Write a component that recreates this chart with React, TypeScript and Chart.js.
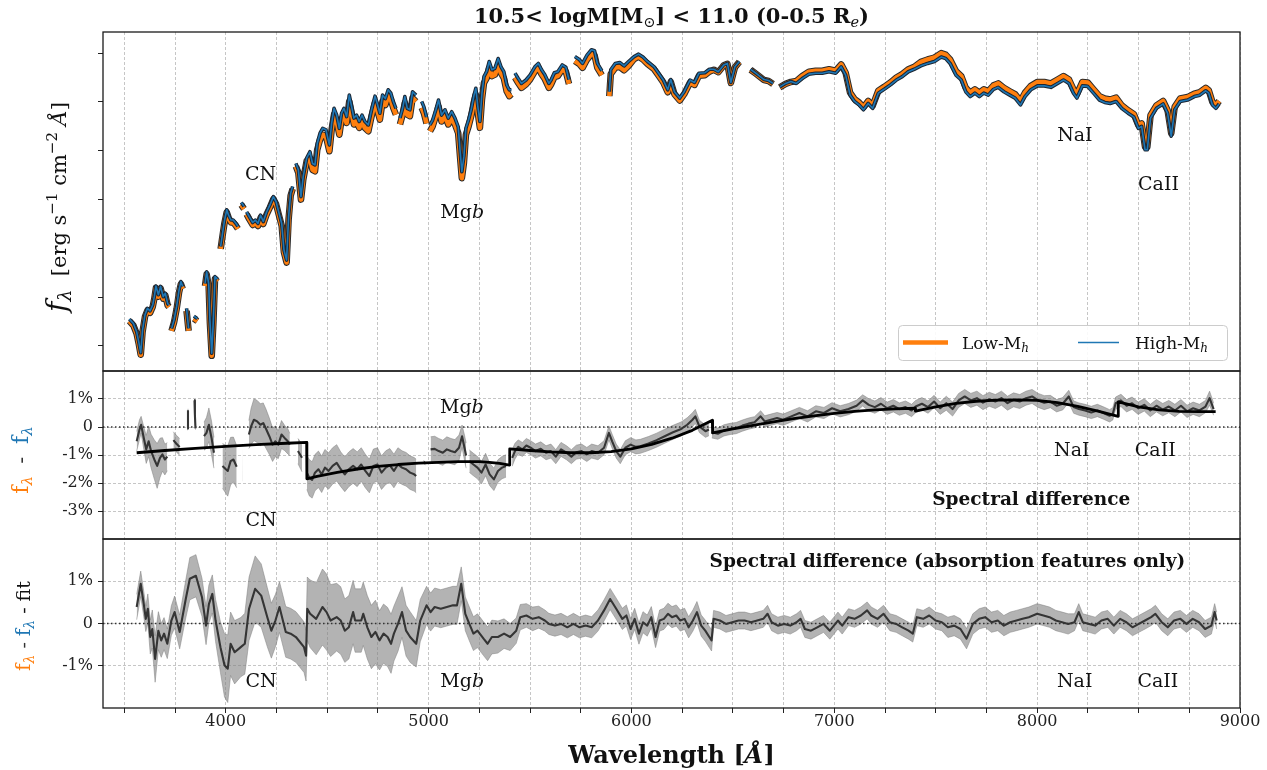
import React, { useEffect, useRef } from 'react';
import { Chart, registerables } from 'chart.js';

Chart.register(...registerables);

const FAMILY = '"DejaVu Serif", "Liberation Serif", serif';
const ORANGE = '#ff7f0e';
const BLUE = '#1f77b4';

// ---------------- axes ----------------
const waveMin = 3395;
const waveMax = 9000;
const xTickValues = [3500, 3750, 4000, 4250, 4500, 4750, 5000, 5250, 5500, 5750, 6000, 6250, 6500, 6750, 7000, 7250, 7500, 7750, 8000, 8250, 8500, 8750, 9000];
const xLabelValues = [4000, 5000, 6000, 7000, 8000, 9000];
const fluxTicks = [0.4, 0.5, 0.6, 0.7, 0.8, 0.9, 1.0];
const fluxRange = [0.3487, 1.0434];
const diffTicks = [-3, -2, -1, 0, 1];
const diffRange = [-4, 2];
const resTicks = [-1, 0, 1];
const resRange = [-2, 2];

// ---------------- top panel: spectra (null = masked gap) ----------------
const specWave = [
  3525, 3545, 3561, 3571, 3581, 3590, 3602, 3614, 3627, 3640, 3648, 3656, 3668, 3679, 3692, 3702, 3714, 3720, 3726,
  3733, 3745, 3758, 3770, 3779, 3788, 3796,
  3807, 3817, 3830,
  3843, 3860, 3880,
  3898, 3906, 3916, 3922, 3931, 3939, 3947, 3959, 3967,
  3975, 3983, 3993, 4005, 4014, 4026, 4037, 4051, 4060, 4068,
  4077, 4090, 4096,
  4103, 4116, 4133, 4146, 4159, 4172, 4185, 4202, 4218, 4235, 4248, 4261, 4276, 4287, 4300, 4310, 4320, 4330, 4338,
  4346, 4358, 4371, 4382, 4399, 4415, 4428, 4440, 4451, 4465, 4478, 4494, 4511, 4522, 4534, 4547, 4560, 4571, 4583, 4596, 4609, 4621, 4632, 4645, 4658, 4672, 4686, 4703, 4719, 4736, 4747, 4760, 4773, 4787, 4801, 4814, 4826, 4839, 4850,
  4859, 4872, 4883, 4895, 4908, 4921, 4938, 4952,
  4966, 4977, 4990, 4999,
  5007, 5020, 5036, 5049, 5064, 5081, 5097, 5114, 5130, 5146, 5155, 5164, 5174, 5184, 5197, 5210, 5224, 5233, 5243, 5253, 5263, 5273, 5286, 5299, 5312, 5327, 5343, 5357, 5371, 5385, 5398, 5408, 5417,
  5426, 5442, 5458, 5480, 5500, 5524, 5541, 5557, 5573, 5593, 5604, 5620, 5637, 5659, 5677, 5692, 5706,
  5721, 5743, 5759, 5781, 5803, 5818, 5832, 5854, 5872,
  5891, 5898, 5920, 5942, 5964, 5986, 6013, 6035, 6057, 6079, 6112, 6134, 6157, 6179, 6194, 6212, 6238, 6260, 6289, 6311, 6333, 6362, 6384, 6406, 6428, 6455, 6473, 6490, 6510, 6532, 6560,
  6587, 6610, 6632, 6654, 6676, 6698, 6715,
  6731, 6760, 6786, 6813, 6842, 6875, 6908, 6941, 6974, 7007, 7034, 7056, 7078, 7100, 7122, 7144, 7167, 7189, 7217, 7246, 7277, 7306, 7335, 7365, 7394, 7427, 7460, 7494, 7527, 7549, 7571, 7600, 7626, 7648, 7670, 7693, 7715, 7737, 7759, 7785, 7808, 7836, 7865, 7891, 7918, 7940, 7969, 8002, 8035, 8068, 8101, 8130, 8157, 8179, 8196, 8223, 8249, 8278, 8307, 8333, 8360, 8389, 8417, 8448, 8477, 8499, 8515, 8532, 8543, 8559, 8588, 8621, 8643, 8661, 8678, 8705, 8742, 8775, 8802, 8831, 8846, 8864, 8881, 8897,
];
const highFlux = [
  .455, .446, .429, .409, .386, .433, .464, .477, .472, .484, .501, .523, .505, .522, .501, .508, .487, .484, null,
  .436, .453, .481, .515, .532, .522, null,
  .477, .436, null,
  .461, .456, null,
  .528, .552, .528, .453, .385, .453, .542, .537, null,
  .604, .627, .655, .679, .668, .658, .658, .651, .645, null,
  .694, .686, null,
  .675, .665, .653, .658, .651, .668, .655, .675, .689, .706, .696, .675, .651, .597, .576, .665, .713, .727, null,
  .774, .761, .706, .747, .785, .798, .774, .771, .815, .836, .846, .843, .812, .856, .887, .873, .846, .877, .887, .870, .914, .890, .867, .873, .860, .873, .860, .853, .884, .912, .897, .877, .914, .907, .925, .918, .901, .887, null,
  .867, .887, .911, .887, .884, .921, .914, null,
  .901, .890, .869, null,
  .853, .863, .884, .904, .873, .884, .867, .880, .867, .849, .802, .757, .788, .846, .863, .884, .914, .928, .890, .860, .918, .952, .962, .983, .966, .969, .989, .972, .962, .935, .925, .925, null,
  .959, .948, .938, .945, .955, .972, .979, .966, .956, .938, .945, .960, .962, .976, .971, .946, null,
  .993, .987, .979, .996, 1.007, 1.005, .979, .964, null,
  .921, .966, .979, .981, .974, .983, .993, .998, .992, .983, .972, .959, .945, .925, .946, .921, .908, .921, .945, .940, .959, .960, .967, .967, .962, .976, .979, .940, .972, .983, null,
  .967, .960, .953, .946, .944, .938, null,
  .931, .938, .942, .938, .948, .957, .959, .959, .962, .959, .972, .955, .914, .901, .894, .884, .897, .887, .918, .926, .935, .945, .952, .962, .967, .974, .979, .983, .992, .989, .979, .955, .945, .921, .911, .918, .911, .918, .914, .926, .930, .921, .914, .908, .894, .911, .925, .933, .933, .930, .938, .945, .938, .918, .908, .933, .932, .918, .904, .899, .897, .901, .887, .877, .869, .846, .850, .802, .802, .867, .887, .896, .877, .830, .884, .901, .904, .911, .914, .923, .918, .894, .887, .896,
];
const lowFlux = [
  .451, .442, .425, .405, .382, .429, .460, .473, .468, .480, .497, .519, .501, .518, .497, .504, .483, .480, null,
  .431, .448, .476, .510, .527, .517, null,
  .472, .431, null,
  .456, .451, null,
  .523, .547, .523, .448, .380, .448, .537, .532, null,
  .599, .622, .650, .674, .663, .653, .653, .646, .640, null,
  .689, .681, null,
  .670, .660, .648, .653, .646, .663, .650, .670, .684, .701, .691, .670, .646, .592, .571, .660, .708, .722, null,
  .768, .755, .700, .741, .779, .785, .761, .758, .802, .823, .833, .830, .799, .843, .874, .860, .833, .864, .874, .857, .901, .877, .854, .860, .847, .860, .847, .840, .871, .899, .884, .864, .901, .894, .912, .905, .888, .874, null,
  .854, .874, .898, .874, .871, .908, .901, null,
  .888, .877, .856, null,
  .840, .850, .871, .891, .860, .871, .854, .867, .854, .836, .789, .744, .775, .833, .850, .871, .901, .915, .877, .847, .905, .939, .949, .970, .953, .956, .976, .959, .949, .922, .912, .916, null,
  .950, .939, .929, .936, .946, .963, .970, .957, .947, .929, .936, .951, .953, .967, .962, .937, null,
  .984, .978, .970, .987, .998, .996, .970, .955, null,
  .912, .957, .970, .972, .965, .974, .988, .993, .987, .978, .967, .954, .940, .920, .941, .916, .903, .916, .940, .935, .954, .955, .962, .966, .961, .975, .978, .939, .971, .982, null,
  .966, .959, .952, .945, .943, .937, null,
  .930, .937, .941, .943, .953, .962, .964, .964, .967, .964, .977, .960, .919, .906, .899, .889, .902, .892, .923, .931, .940, .950, .957, .967, .972, .982, .987, .991, 1.000, .997, .987, .963, .953, .929, .919, .926, .919, .926, .922, .934, .938, .929, .922, .916, .902, .919, .933, .941, .941, .938, .946, .953, .946, .926, .916, .941, .940, .926, .912, .907, .905, .909, .893, .883, .875, .852, .856, .808, .808, .873, .893, .902, .883, .836, .890, .907, .910, .917, .920, .929, .924, .900, .893, .902,
];

// ---------------- middle panel: spectral difference in % (null = gap) ----------------
const diffWave = [
  3561, 3575, 3583, 3596, 3608, 3620, 3632, 3648, 3662, 3676, 3688, 3700, 3712, 3727,
  3742, 3756, 3773, 3790,
  3810, 3814, 3830,
  3846, 3848, 3851, 3870,
  3893, 3905, 3917, 3930, 3942, 3965,
  3984, 3998, 4010, 4024, 4038, 4054, 4068,
  4083, 4085, 4100,
  4114, 4125, 4139, 4155, 4171, 4185, 4199, 4215, 4231, 4245, 4259, 4275, 4290, 4306, 4316, 4336,
  4356, 4376, 4388,
  4400, 4412, 4426, 4440, 4457, 4473, 4489, 4507, 4527, 4547, 4567, 4587, 4607, 4628, 4648, 4668, 4688, 4708, 4728, 4748, 4768, 4789, 4809, 4829, 4849, 4869, 4889, 4909, 4929, 4939, 4960,
  4975, 4985, 4998,
  5010, 5030, 5050, 5070, 5090, 5110, 5130, 5150, 5165, 5177, 5185, 5193,
  5201, 5221, 5241, 5261, 5281, 5301, 5322, 5342, 5362, 5382, 5397,
  5412, 5426, 5442, 5462, 5482, 5503, 5527, 5553, 5579, 5603, 5627, 5653, 5680, 5704, 5728, 5754, 5780, 5804, 5835, 5865, 5889, 5905, 5925, 5945, 5970, 5996, 6022, 6044, 6084, 6124, 6164, 6205, 6245, 6275, 6301, 6315, 6335, 6365, 6382, 6389,
  6396, 6426, 6456, 6486, 6516, 6547, 6577, 6607, 6637, 6657, 6687, 6718, 6748, 6788, 6828, 6868, 6909, 6949, 6989, 7029, 7070, 7110, 7140, 7170, 7200, 7230, 7261, 7291, 7321, 7351, 7381, 7401, 7432, 7462, 7492, 7522, 7552, 7583, 7613, 7643, 7673, 7703, 7733, 7764, 7794, 7824, 7854, 7884, 7914, 7945, 7975, 8005, 8035, 8065, 8096, 8126, 8156, 8180, 8206, 8236, 8267, 8297, 8327, 8357, 8373, 8387, 8413, 8441, 8468, 8498, 8528, 8558, 8588, 8619, 8649, 8679, 8709, 8739, 8769, 8800, 8830, 8850, 8870,
];
const diffVal = [
  -0.51, -0.09, 0.08, -0.39, -0.80, -0.51, -0.86, -1.16, -1.39, -1.10, -0.98, -1.16, -1.06, null,
  -0.47, -0.59, -0.71, null,
  -0.05, 0.60, null,
  0.95, 0.44, -0.05, null,
  -0.33, -0.21, 0.08, -0.39, -0.92, null,
  -1.39, -1.49, -1.57, -1.22, -1.16, -1.42, null,
  -1.32, -1.32, null,
  -0.27, 0.02, 0.26, 0.20, 0.08, 0.14, -0.07, -0.33, -0.63, -0.51, -0.63, -0.27, -0.39, -0.51, -0.63, null,
  -0.86, -1.10, null,
  -1.63, -1.81, -1.89, -1.63, -1.51, -1.69, -1.45, -1.57, -1.39, -1.28, -1.51, -1.69, -1.51, -1.39, -1.51, -1.34, -1.57, -1.75, -1.39, -1.34, -1.63, -1.45, -1.37, -1.57, -1.34, -1.45, -1.51, -1.63, -1.69, -1.75, null,
  -1.25, -1.30, null,
  -0.80, -0.78, -0.86, -0.92, -0.80, -0.86, -0.90, -0.74, -0.33, -0.74, -1.02, null,
  -1.22, -1.34, -1.45, -1.63, -1.34, -1.69, -1.87, -1.57, -1.45, -1.39, null,
  -1.10, -0.86, -0.71, -0.80, -0.66, -0.74, -0.86, -0.78, -0.92, -0.86, -1.06, -0.80, -0.92, -1.06, -0.90, -0.86, -0.98, -0.86, -0.92, -0.74, -0.21, -0.51, -0.86, -1.06, -0.74, -0.63, -0.71, -0.69, -0.59, -0.47, -0.33, -0.19, -0.07, 0.08, 0.26, 0.38, 0.02, -0.15, -0.09, null,
  -0.19, -0.24, -0.12, -0.07, -0.04, 0.05, 0.12, 0.17, 0.38, 0.20, 0.26, 0.32, 0.26, 0.38, 0.50, 0.38, 0.56, 0.50, 0.67, 0.56, 0.64, 0.76, 0.95, 0.79, 0.71, 0.83, 0.67, 0.76, 0.64, 0.71, 0.59, 0.73, 0.83, 0.71, 0.91, 0.67, 0.85, 0.64, 0.95, 1.09, 0.95, 1.03, 0.87, 0.99, 0.91, 1.03, 0.85, 0.97, 0.91, 1.03, 1.09, 0.95, 0.87, 0.91, 0.76, 0.83, 1.09, 0.71, 0.64, 0.59, 0.52, 0.59, 0.50, 0.40, 0.47, 0.85, 0.95, 0.76, 0.85, 0.67, 0.79, 0.59, 0.76, 0.62, 0.73, 0.59, 0.76, 0.56, 0.67, 0.59, 0.73, 1.03, 0.64,
];
const diffErr = [
  0.35, 0.35, 0.30, 0.40, 0.50, 0.55, 0.60, 0.70, 0.80, 0.70, 0.60, 0.55, 0.50, null,
  0.30, 0.30, 0.30, null,
  0.05, 0.05, null,
  0.05, 0.05, 0.05, null,
  0.50, 0.55, 0.60, 0.60, 0.55, null,
  0.80, 0.85, 0.90, 0.85, 0.80, 0.75, null,
  0.62, 0.62, null,
  0.50, 0.65, 0.75, 0.75, 0.75, 0.72, 0.70, 0.65, 0.60, 0.55, 0.50, 0.50, 0.45, 0.45, 0.40, null,
  0.45, 0.50, null,
  0.60, 0.65, 0.65, 0.65, 0.65, 0.65, 0.65, 0.65, 0.65, 0.65, 0.62, 0.62, 0.62, 0.62, 0.62, 0.60, 0.60, 0.60, 0.60, 0.60, 0.60, 0.60, 0.60, 0.60, 0.60, 0.60, 0.60, 0.60, 0.60, 0.60, null,
  0.05, 0.05, null,
  0.45, 0.45, 0.45, 0.45, 0.45, 0.45, 0.45, 0.45, 0.40, 0.45, 0.45, null,
  0.40, 0.40, 0.40, 0.40, 0.40, 0.40, 0.40, 0.40, 0.40, 0.40, null,
  0.30, 0.28, 0.25, 0.25, 0.25, 0.25, 0.25, 0.25, 0.25, 0.25, 0.25, 0.25, 0.25, 0.25, 0.25, 0.25, 0.25, 0.25, 0.25, 0.25, 0.25, 0.25, 0.25, 0.25, 0.25, 0.25, 0.25, 0.25, 0.25, 0.25, 0.25, 0.25, 0.25, 0.25, 0.25, 0.25, 0.22, 0.22, 0.22, null,
  0.20, 0.20, 0.20, 0.20, 0.20, 0.20, 0.20, 0.20, 0.20, 0.20, 0.20, 0.20, 0.20, 0.20, 0.20, 0.20, 0.20, 0.20, 0.20, 0.20, 0.20, 0.20, 0.20, 0.22, 0.22, 0.22, 0.22, 0.22, 0.22, 0.22, 0.22, 0.22, 0.22, 0.22, 0.22, 0.22, 0.25, 0.25, 0.25, 0.25, 0.25, 0.25, 0.25, 0.25, 0.25, 0.25, 0.25, 0.25, 0.25, 0.25, 0.25, 0.25, 0.25, 0.22, 0.22, 0.22, 0.22, 0.22, 0.22, 0.22, 0.22, 0.22, 0.22, 0.22, 0.22, 0.22, 0.22, 0.22, 0.22, 0.22, 0.22, 0.22, 0.22, 0.22, 0.22, 0.22, 0.22, 0.22, 0.22, 0.22, 0.22, 0.25, 0.22,
];

// polynomial fit to the difference (duplicated wavelengths = jumps)
const fitWave = [3561, 3700, 3850, 4000, 4150, 4300, 4399, 4400, 4450, 4550, 4650, 4750, 4850, 4950, 5050, 5150, 5250, 5300, 5350, 5399, 5400, 5500, 5600, 5700, 5800, 5900, 6000, 6100, 6200, 6300, 6399, 6400, 6500, 6600, 6700, 6800, 6900, 7000, 7100, 7200, 7300, 7399, 7400, 7500, 7600, 7700, 7800, 7900, 8000, 8100, 8200, 8300, 8399, 8400, 8500, 8600, 8700, 8800, 8880];
const fitVal = [-0.92, -0.84, -0.76, -0.69, -0.63, -0.58, -0.55, -1.85, -1.76, -1.62, -1.50, -1.41, -1.34, -1.29, -1.26, -1.24, -1.24, -1.26, -1.30, -1.36, -0.78, -0.84, -0.89, -0.92, -0.92, -0.88, -0.78, -0.62, -0.40, -0.12, 0.24, -0.21, -0.07, 0.06, 0.18, 0.30, 0.40, 0.49, 0.56, 0.61, 0.65, 0.67, 0.57, 0.72, 0.84, 0.92, 0.96, 0.97, 0.95, 0.87, 0.74, 0.57, 0.38, 0.90, 0.72, 0.61, 0.56, 0.55, 0.55];

// ---------------- bottom panel: residual after fit, in % ----------------
const resWave = [
  3561, 3581, 3596, 3606, 3616, 3628, 3638, 3652, 3668, 3682, 3696, 3712, 3732, 3748, 3773, 3803, 3823, 3853, 3883, 3903, 3917, 3934, 3950, 3974, 3994, 4010, 4024, 4044, 4074, 4094,
  4115, 4145, 4175, 4205, 4225, 4245, 4265, 4296, 4320, 4346, 4386, 4396, 4402, 4416, 4446, 4477, 4497, 4517, 4547, 4567, 4587, 4607, 4628, 4638, 4668, 4678, 4698, 4718, 4738, 4758,
  4778, 4798, 4815, 4829, 4849, 4869, 4889, 4909, 4939, 4959, 4990, 5010, 5030, 5060, 5090, 5120, 5140, 5161, 5181, 5201, 5221, 5241, 5271, 5291, 5312, 5342, 5372, 5402, 5432, 5452,
  5482, 5513, 5543, 5573, 5593, 5623, 5653, 5684, 5714, 5744, 5774, 5804, 5835, 5865, 5895, 5925, 5955, 5975, 5996, 6016, 6037, 6057, 6078, 6098, 6119, 6139, 6160, 6180, 6200, 6221,
  6241, 6262, 6282, 6303, 6323, 6344, 6364, 6384, 6395, 6405, 6436, 6466, 6497, 6528, 6558, 6589, 6620, 6650, 6671, 6691, 6722, 6753, 6783, 6814, 6834, 6855, 6885, 6916, 6947, 6978,
  6998, 7018, 7039, 7070, 7100, 7131, 7162, 7182, 7213, 7243, 7274, 7305, 7335, 7366, 7387, 7407, 7438, 7468, 7499, 7530, 7560, 7591, 7622, 7652, 7683, 7714, 7744, 7775, 7806, 7836,
  7867, 7898, 7928, 7959, 8000, 8031, 8061, 8092, 8123, 8153, 8184, 8205, 8225, 8256, 8286, 8317, 8348, 8378, 8409, 8440, 8470, 8501, 8532, 8562, 8583, 8614, 8644, 8675, 8706, 8736,
  8767, 8798, 8828, 8859, 8875, 8885,
];
const resVal = [
  0.39, 0.94, 0.46, 0.11, 0.35, -0.32, -0.13, -0.84, -0.17, -0.40, -0.24, -0.48, 0.07, 0.27, -0.20, 0.58, 1.06, 1.13, 0.62, -0.05, 0.46, 0.70, 0.07, -0.56, -0.99, -1.07, -0.48, -0.68, -0.56, -0.48,
  0.35, 0.82, 0.66, 0.15, -0.17, 0.07, 0.39, -0.20, -0.24, -0.32, -0.56, -0.76, 0.35, 0.23, 0.11, 0.39, 0.27, 0.07, 0.15, 0.07, -0.17, -0.09, 0.27, 0.07, 0.07, 0.23, -0.09, -0.32, -0.20, -0.40,
  -0.24, -0.32, -0.48, -0.24, -0.01, 0.27, -0.17, -0.32, -0.48, 0.07, 0.43, 0.27, 0.39, 0.35, 0.39, 0.43, 0.43, 0.94, 0.23, -0.01, -0.24, -0.17, -0.36, -0.48, -0.32, -0.32, -0.24, -0.32, -0.17, 0.15,
  0.19, 0.11, 0.15, 0.07, -0.01, -0.05, -0.01, -0.09, -0.01, -0.09, -0.05, -0.09, 0.07, 0.31, 0.58, 0.35, 0.11, 0.19, -0.13, 0.11, -0.24, 0.03, -0.05, 0.15, -0.32, 0.07, 0.11, 0.23, 0.15, 0.19,
  0.07, 0.11, -0.09, 0.07, 0.27, -0.05, -0.17, -0.32, -0.40, 0.11, 0.07, -0.01, 0.03, 0.07, 0.07, 0.03, 0.07, 0.11, 0.23, 0.03, -0.05, -0.01, -0.05, 0.03, 0.11, -0.13, -0.17, -0.09, -0.01, -0.17,
  -0.05, 0.07, -0.05, 0.15, 0.11, 0.19, 0.31, 0.19, 0.11, 0.23, 0.03, -0.01, -0.09, -0.17, -0.24, 0.15, 0.11, 0.19, 0.07, 0.03, -0.09, -0.05, -0.13, -0.36, -0.01, 0.11, 0.15, 0.03, 0.07, -0.05,
  0.03, 0.07, 0.11, 0.15, 0.23, 0.19, 0.15, 0.07, 0.03, -0.01, 0.03, 0.27, 0.03, -0.01, -0.05, 0.07, 0.11, -0.05, 0.11, 0.03, -0.09, -0.01, 0.07, 0.15, 0.23, 0.03, -0.09, 0.07, 0.11, -0.01,
  0.11, 0.03, -0.13, -0.05, 0.27, 0.07,
];
const resErr = [
  0.30, 0.30, 0.30, 0.30, 0.35, 0.40, 0.45, 0.55, 0.45, 0.40, 0.38, 0.35, 0.35, 0.38, 0.40, 0.45, 0.50, 0.50, 0.45, 0.45, 0.45, 0.45, 0.50, 0.60, 0.75, 0.80, 0.75, 0.75, 0.70, 0.72,
  0.75, 0.78, 0.75, 0.70, 0.65, 0.62, 0.60, 0.60, 0.60, 0.60, 0.60, 0.60, 0.75, 0.80, 0.85, 0.90, 0.90, 0.85, 0.80, 0.80, 0.75, 0.75, 0.75, 0.75, 0.75, 0.75, 0.75, 0.75, 0.75, 0.70,
  0.70, 0.70, 0.70, 0.65, 0.65, 0.60, 0.60, 0.60, 0.55, 0.50, 0.45, 0.45, 0.45, 0.45, 0.45, 0.45, 0.45, 0.40, 0.40, 0.40, 0.40, 0.40, 0.40, 0.40, 0.40, 0.38, 0.35, 0.32, 0.30, 0.30,
  0.28, 0.28, 0.26, 0.25, 0.25, 0.25, 0.25, 0.25, 0.25, 0.25, 0.25, 0.25, 0.25, 0.25, 0.25, 0.25, 0.25, 0.25, 0.25, 0.25, 0.25, 0.25, 0.25, 0.25, 0.25, 0.25, 0.25, 0.25, 0.25, 0.25,
  0.25, 0.25, 0.25, 0.25, 0.25, 0.25, 0.25, 0.25, 0.25, 0.20, 0.20, 0.20, 0.20, 0.20, 0.20, 0.20, 0.20, 0.20, 0.20, 0.20, 0.20, 0.20, 0.20, 0.20, 0.20, 0.20, 0.20, 0.20, 0.20, 0.20,
  0.20, 0.20, 0.20, 0.20, 0.20, 0.20, 0.20, 0.20, 0.20, 0.20, 0.20, 0.20, 0.20, 0.20, 0.20, 0.20, 0.20, 0.20, 0.20, 0.20, 0.24, 0.24, 0.24, 0.24, 0.24, 0.24, 0.24, 0.24, 0.24, 0.24,
  0.24, 0.24, 0.24, 0.24, 0.24, 0.24, 0.24, 0.24, 0.24, 0.24, 0.20, 0.20, 0.20, 0.20, 0.20, 0.20, 0.20, 0.20, 0.20, 0.20, 0.20, 0.20, 0.20, 0.20, 0.20, 0.20, 0.20, 0.20, 0.20, 0.20,
  0.20, 0.20, 0.20, 0.20, 0.20, 0.20,
];

const zeroWave = [waveMin, waveMax];
const zeroVal = [0, 0];

// ---------------- annotations ----------------
const topNotes = [
  { label: 'CN', wave: 4172, val: 0.7545 },
  { label: 'Mgb', wave: 5166, val: 0.676 },
  { label: 'NaI', wave: 8186, val: 0.834 },
  { label: 'CaII', wave: 8598, val: 0.733 },
];
const midNotes = [
  { label: 'Mgb', wave: 5164, val: 0.755 },
  { label: 'CN', wave: 4174, val: -3.28 },
  { label: 'NaI', wave: 8171, val: -0.77 },
  { label: 'CaII', wave: 8582, val: -0.77 },
];
const botNotes = [
  { label: 'CN', wave: 4174, val: -1.33 },
  { label: 'Mgb', wave: 5166, val: -1.33 },
  { label: 'NaI', wave: 8185, val: -1.33 },
  { label: 'CaII', wave: 8595, val: -1.33 },
];
const midHeading = { label: 'Spectral difference', wave: 7971, val: -2.57 };
const botHeading = { label: 'Spectral difference (absorption features only)', wave: 7558, val: 1.5 };
const legendLabels = ['Low-M', 'High-M'];

// ---------------- helpers ----------------
const font = (size: number, weight = '', style = '') =>
  `${style ? style + ' ' : ''}${weight ? weight + ' ' : ''}${size}px ${FAMILY}`;

type Run = { t: string; f: string; c?: string; dy?: number };

function runsWidth(ctx: CanvasRenderingContext2D, runs: Run[]) {
  let w = 0;
  for (const r of runs) {
    ctx.font = r.f;
    w += ctx.measureText(r.t).width;
  }
  return w;
}

function drawRuns(ctx: CanvasRenderingContext2D, runs: Run[], x: number, y: number, align: 'center' | 'left' = 'center') {
  const w = runsWidth(ctx, runs);
  let cx = align === 'center' ? x - w / 2 : x;
  ctx.textAlign = 'left';
  ctx.textBaseline = 'alphabetic';
  for (const r of runs) {
    ctx.font = r.f;
    ctx.fillStyle = r.c || '#111';
    ctx.fillText(r.t, cx, y + (r.dy || 0));
    cx += ctx.measureText(r.t).width;
  }
}

function drawRotated(ctx: CanvasRenderingContext2D, runs: Run[], cx: number, cy: number) {
  ctx.save();
  ctx.translate(cx, cy);
  ctx.rotate(-Math.PI / 2);
  drawRuns(ctx, runs, 0, 0, 'center');
  ctx.restore();
}

function noteRuns(label: string, size: number): Run[] {
  if (label === 'Mgb') return [{ t: 'Mg', f: font(size) }, { t: 'b', f: font(size, '', 'italic') }];
  return [{ t: label, f: font(size) }];
}

const pts = (wave: number[], vals: (number | null)[]) =>
  wave.map((w, i) => ({ x: w, y: vals[i] == null ? null : (vals[i] as number) }));
const bandPts = (wave: number[], vals: (number | null)[], errs: (number | null)[], sign: number) =>
  wave.map((w, i) => ({
    x: w,
    y: vals[i] == null || errs[i] == null ? null : (vals[i] as number) + sign * (errs[i] as number),
  }));

const textPlugin = {
  id: 'specTexts',
  afterDatasetsDraw(chart: any) {
    const ctx: CanvasRenderingContext2D = chart.ctx;
    const xs = chart.scales.x;
    const ca = chart.chartArea;
    ctx.save();
    const place = (notes: { label: string; wave: number; val: number }[], scale: any) => {
      for (const n of notes) {
        const x = xs.getPixelForValue(n.wave);
        const y = scale.getPixelForValue(n.val);
        drawRuns(ctx, noteRuns(n.label, 19), x, y + 7);
      }
    };
    place(topNotes, chart.scales.yTop);
    place(midNotes, chart.scales.yMid);
    place(botNotes, chart.scales.yBot);
    {
      const s = chart.scales.yMid;
      drawRuns(ctx, [{ t: midHeading.label, f: font(18.5, 'bold') }], xs.getPixelForValue(midHeading.wave), s.getPixelForValue(midHeading.val) + 6.5);
      const b = chart.scales.yBot;
      drawRuns(ctx, [{ t: botHeading.label, f: font(18.5, 'bold') }], xs.getPixelForValue(botHeading.wave), b.getPixelForValue(botHeading.val) + 6.5);
    }

    // legend (inside lower-right of the top panel)
    const top = chart.scales.yTop;
    const lx1 = ca.right - 329 - 13;
    const ly2 = top.bottom - 11;
    const lh = 35;
    const ly1 = ly2 - lh;
    ctx.fillStyle = 'rgba(255,255,255,0.9)';
    ctx.strokeStyle = '#cccccc';
    ctx.lineWidth = 1;
    ctx.beginPath();
    if ((ctx as any).roundRect) (ctx as any).roundRect(lx1 + 0.5, ly1 + 0.5, 329, lh, 4);
    else ctx.rect(lx1 + 0.5, ly1 + 0.5, 329, lh);
    ctx.fill();
    ctx.stroke();
    const cy = ly1 + lh / 2;
    ctx.lineCap = 'butt';
    ctx.strokeStyle = ORANGE;
    ctx.lineWidth = 4.5;
    ctx.beginPath();
    ctx.moveTo(lx1 + 5, cy);
    ctx.lineTo(lx1 + 50, cy);
    ctx.stroke();
    drawRuns(ctx, [{ t: legendLabels[0], f: font(17) }, { t: 'h', f: font(12, '', 'italic'), dy: 3 }], lx1 + 64, cy + 6.5, 'left');
    ctx.strokeStyle = BLUE;
    ctx.lineWidth = 1.5;
    ctx.beginPath();
    ctx.moveTo(lx1 + 180, cy);
    ctx.lineTo(lx1 + 221, cy);
    ctx.stroke();
    drawRuns(ctx, [{ t: legendLabels[1], f: font(17) }, { t: 'h', f: font(12, '', 'italic'), dy: 3 }], lx1 + 237, cy + 6.5, 'left');
    ctx.restore();
  },
  afterDraw(chart: any) {
    const ctx: CanvasRenderingContext2D = chart.ctx;
    const ca = chart.chartArea;
    ctx.save();
    // panel frames
    ctx.strokeStyle = '#1a1a1a';
    ctx.lineWidth = 1.3;
    for (const id of ['yTop', 'yMid', 'yBot']) {
      const s = chart.scales[id];
      ctx.strokeRect(ca.left, s.top, ca.right - ca.left, s.bottom - s.top);
    }
    const cx = (ca.left + ca.right) / 2;
    // title
    drawRuns(ctx, [
      { t: '10.5< logM[M', f: font(21, 'bold') },
      { t: '\u2299', f: font(14.5), dy: 4 },
      { t: '] < 11.0 (0-0.5 R', f: font(21, 'bold') },
      { t: 'e', f: font(14.5, '', 'italic'), dy: 4 },
      { t: ')', f: font(21, 'bold') },
    ], cx, 23);
    // x label
    drawRuns(ctx, [
      { t: 'Wavelength [', f: font(24, 'bold') },
      { t: '\u00C5', f: font(24, 'bold', 'italic') },
      { t: ']', f: font(24, 'bold') },
    ], cx, 763);
    // y labels
    drawRotated(ctx, [
      { t: 'f', f: font(28, '', 'italic') },
      { t: '\u03BB', f: font(19, '', 'italic'), dy: 5 },
      { t: '  [erg s', f: font(21) },
      { t: '\u22121', f: font(15), dy: -9 },
      { t: ' cm', f: font(21) },
      { t: '\u22122', f: font(15), dy: -9 },
      { t: ' ', f: font(21) },
      { t: '\u00C5', f: font(21, '', 'italic') },
      { t: ']', f: font(21) },
    ], 66, 207);
    drawRotated(ctx, [
      { t: 'f', f: font(22), c: ORANGE },
      { t: '\u03BB', f: font(15, '', 'italic'), c: ORANGE, dy: 4 },
      { t: '  -  ', f: font(20), c: '#333' },
      { t: 'f', f: font(22), c: BLUE },
      { t: '\u03BB', f: font(15, '', 'italic'), c: BLUE, dy: 4 },
    ], 28, 460);
    drawRotated(ctx, [
      { t: 'f', f: font(20), c: ORANGE },
      { t: '\u03BB', f: font(14, '', 'italic'), c: ORANGE, dy: 4 },
      { t: ' - ', f: font(19), c: '#333' },
      { t: 'f', f: font(20), c: BLUE },
      { t: '\u03BB', f: font(14, '', 'italic'), c: BLUE, dy: 4 },
      { t: ' - fit', f: font(19), c: '#111' },
    ], 30, 626);
    ctx.restore();
  },
};

const tickFont = { family: FAMILY, size: 16 };

function yScale(ticks: number[], range: number[], weight: number, stackWeight: number, showLabels: boolean, showGrid: boolean) {
  return {
    type: 'linear',
    position: 'left',
    stack: 'panels',
    stackWeight,
    weight,
    min: range[0],
    max: range[1],
    afterBuildTicks: (s: any) => {
      s.ticks = ticks.map((v) => ({ value: v }));
    },
    afterFit: (s: any) => {
      s.width = 103;
    },
    grid: {
      drawOnChartArea: showGrid,
      drawTicks: true,
      tickLength: 5,
      color: '#b8b8b8',
      lineWidth: 0.8,
      tickColor: '#222',
      tickWidth: 1,
    },
    border: { display: false, dash: [3, 2] },
    ticks: {
      display: showLabels,
      padding: 5,
      color: '#222',
      font: tickFont,
      callback: (v: number) => (v === 0 ? '0' : `${v}%`),
    },
  };
}

export default function App() {
  const ref = useRef<HTMLCanvasElement>(null);

  useEffect(() => {
    const canvas = ref.current;
    if (!canvas) return;

    const highData = pts(specWave, highFlux);
    const lowData = pts(specWave, lowFlux);
    const common = { pointRadius: 0, pointHoverRadius: 0, tension: 0, spanGaps: false, fill: false, borderJoinStyle: 'round' };

    const datasets: any[] = [
      // top panel
      { ...common, label: 'High-Mh', data: highData, yAxisID: 'yTop', borderColor: BLUE, borderWidth: 1.6, order: 1 },
      { ...common, label: 'High-Mh outline', data: highData, yAxisID: 'yTop', borderColor: '#1c2633', borderWidth: 3.6, order: 2 },
      { ...common, label: 'Low-Mh', data: lowData, yAxisID: 'yTop', borderColor: ORANGE, borderWidth: 4.6, order: 3 },
      { ...common, label: 'Low-Mh outline', data: lowData, yAxisID: 'yTop', borderColor: '#2a2a2a', borderWidth: 6.6, order: 4 },
      // middle panel
      { ...common, label: 'fit', data: pts(fitWave, fitVal), yAxisID: 'yMid', borderColor: '#000', borderWidth: 2.8, order: 1 },
      { ...common, label: 'diff', data: pts(diffWave, diffVal), yAxisID: 'yMid', borderColor: '#353535', borderWidth: 2.1, order: 2 },
      { ...common, label: 'zeroMid', data: pts(zeroWave, zeroVal), yAxisID: 'yMid', borderColor: '#333', borderWidth: 1.3, borderDash: [1.5, 2.5], order: 3 },
      { ...common, label: 'diffUp', data: bandPts(diffWave, diffVal, diffErr, 1), yAxisID: 'yMid', borderColor: 'rgba(120,120,120,0.6)', borderWidth: 0.8, backgroundColor: 'rgba(128,128,128,0.6)', fill: '+1', order: 5 },
      { ...common, label: 'diffLo', data: bandPts(diffWave, diffVal, diffErr, -1), yAxisID: 'yMid', borderColor: 'rgba(120,120,120,0.6)', borderWidth: 0.8, order: 6 },
      // bottom panel
      { ...common, label: 'res', data: pts(resWave, resVal), yAxisID: 'yBot', borderColor: '#353535', borderWidth: 2.1, order: 2 },
      { ...common, label: 'zeroBot', data: pts(zeroWave, zeroVal), yAxisID: 'yBot', borderColor: '#333', borderWidth: 1.3, borderDash: [1.5, 2.5], order: 3 },
      { ...common, label: 'resUp', data: bandPts(resWave, resVal, resErr, 1), yAxisID: 'yBot', borderColor: 'rgba(120,120,120,0.6)', borderWidth: 0.8, backgroundColor: 'rgba(128,128,128,0.6)', fill: '+1', order: 5 },
      { ...common, label: 'resLo', data: bandPts(resWave, resVal, resErr, -1), yAxisID: 'yBot', borderColor: 'rgba(120,120,120,0.6)', borderWidth: 0.8, order: 6 },
    ];

    const chart = new Chart(canvas, {
      type: 'line',
      data: { datasets },
      plugins: [textPlugin],
      options: {
        animation: false,
        responsive: false,
        devicePixelRatio: 1,
        events: [],
        normalized: true,
        layout: { padding: { top: 32, right: 27, bottom: 0, left: 0 } },
        plugins: {
          legend: { display: false },
          tooltip: { enabled: false },
          title: { display: false },
        },
        scales: {
          x: {
            type: 'linear',
            position: 'bottom',
            min: waveMin,
            max: waveMax,
            afterBuildTicks: (s: any) => {
              s.ticks = xTickValues.map((v) => ({ value: v }));
            },
            afterFit: (s: any) => {
              s.height = 62;
            },
            grid: {
              drawOnChartArea: true,
              drawTicks: true,
              tickLength: 5,
              color: '#b8b8b8',
              lineWidth: 0.8,
              tickColor: '#222',
              tickWidth: 1,
            },
            border: { display: false, dash: [3, 2] },
            ticks: {
              autoSkip: false,
              maxRotation: 0,
              minRotation: 0,
              padding: -1,
              color: '#222',
              font: tickFont,
              callback: (v: number) => (xLabelValues.includes(v) ? String(v) : ''),
            },
          },
          yTop: yScale(fluxTicks, fluxRange, 3, 339, false, false),
          yMid: yScale(diffTicks, diffRange, 2, 168, true, true),
          yBot: yScale(resTicks, resRange, 1, 169, true, true),
        } as any,
      },
    } as any);

    return () => chart.destroy();
  }, []);

  return (
    <div style={{ position: 'absolute', left: 0, top: 0, width: 1267, height: 770, background: '#ffffff' }}>
      <canvas ref={ref} width={1267} height={770} style={{ display: 'block', width: 1267, height: 770 }} />
    </div>
  );
}
